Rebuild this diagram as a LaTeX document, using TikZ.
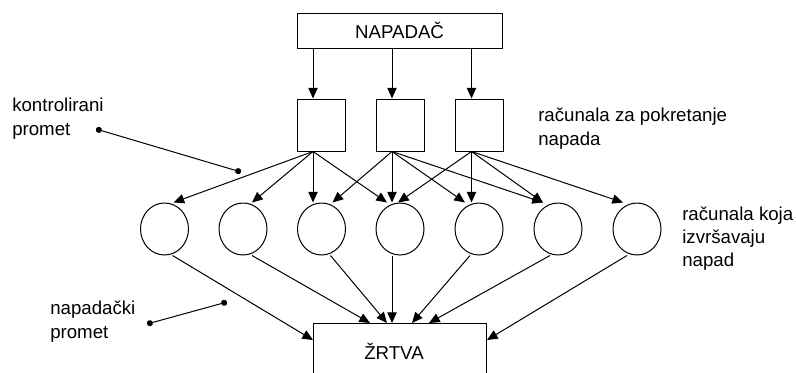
\documentclass[tikz,border=0pt]{standalone}
\usepackage{fontspec}
\setmainfont{Liberation Sans}
\usetikzlibrary{arrows.meta,calc,shapes.geometric}
\begin{document}
\begin{tikzpicture}[x=0.75pt,y=-0.75pt,
  font=\fontsize{14pt}{17.5pt}\selectfont,
  box/.style={draw, line width=0.75pt, inner sep=0pt},
  sq/.style={box, minimum width=48*0.75pt, minimum height=52*0.75pt},
  pc/.style={ellipse, draw, line width=0.75pt, inner sep=0pt, minimum width=48*0.75pt, minimum height=52*0.75pt},
  arr/.style={line width=0.75pt, -{Triangle[length=8pt,width=7pt]}},
  lbl/.style={align=left, anchor=base west, inner sep=0pt},
  pointer/.style={line width=0.75pt, {Circle[length=4.5pt]}-{Circle[length=4.5pt]}}
]
\useasboundingbox (0,0) rectangle (796,372);
\clip (0,0) rectangle (796,372);

% attacker
\node[box, minimum width=205*0.75pt, minimum height=35*0.75pt] (top) at (399.5,30.5) {NAPADAČ};

% launching computers
\node[sq] (s1) at (321,125) {};
\node[sq] (s2) at (400,125) {};
\node[sq] (s3) at (479.5,125) {};

% executing computers
\node[pc] (c1) at (164.5,229) {};
\node[pc] (c2) at (243,229) {};
\node[pc] (c3) at (321.5,229) {};
\node[pc] (c4) at (400,229) {};
\node[pc] (c5) at (479,229) {};
\node[pc] (c6) at (558,229) {};
\node[pc] (c7) at (637,229) {};

% victim
\node[box, anchor=north west, minimum width=173*0.75pt, minimum height=62*0.75pt] (v) at (313,323) {};
\node[inner sep=0pt] (vt) at (394,351.5) {ŽRTVA};

% attacker -> launchers
\coordinate (s1t) at ($(s1.north)+(-8,0)$);
\coordinate (s2t) at ($(s2.north)+(-8,0)$);
\coordinate (s3t) at ($(s3.north)+(-8,0)$);
\draw[arr] (s1t |- top.south) -- (s1t);
\draw[arr] (s2t |- top.south) -- (s2t);
\draw[arr] (s3t |- top.south) -- (s3t);

% launchers -> executors
\coordinate (s1b) at ($(s1.south)+(-8,0)$);
\coordinate (s2b) at ($(s2.south)+(-8,0)$);
\coordinate (s3b) at ($(s3.south)+(-8,0)$);
\draw[arr] (s1b) -- ($(c1.north)+(9,0)$);
\draw[arr] (s1b) -- ($(c2.north)+(9,0)$);
\draw[arr] (s1b) -- ($(c3.north)+(-8.5,0)$);
\draw[arr] (s1b) -- ($(c4.north)+(-13,0)$);
\draw[arr] (s2b) -- ($(c3.north)+(11,0)$);
\draw[arr] (s2b) -- ($(c4.north)+(-8,0)$);
\draw[arr] (s2b) -- ($(c5.north)+(-14,0)$);
\draw[arr] (s2b) -- ($(c6.north)+(-15,0)$);
\draw[arr] (s3b) -- ($(c4.north)+(-2,0)$);
\draw[arr] (s3b) -- ($(c5.north)+(-7.5,0)$);
\draw[arr] (s3b) -- ($(c6.north)+(-15,0)$);
\draw[arr] (s3b) -- ($(c7.north)+(-14,0)$);

% executors -> victim
\draw[arr] ($(c1.south)+(8,0)$) -- ($(v.north west)+(0,17)$);
\draw[arr] ($(c2.south)+(9,0)$) -- ($(v.north west)+(57,0)$);
\draw[arr] ($(c3.south)+(9,0)$) -- ($(v.north west)+(74,0)$);
\draw[arr] ($(c4.south)+(-8,0)$) -- ($(v.north west)+(79,0)$);
\draw[arr] ($(c5.south)+(-9,0)$) -- ($(v.north west)+(99,0)$);
\draw[arr] ($(c6.south)+(-8,0)$) -- ($(v.north west)+(116,0)$);
\draw[arr] ($(c7.south)+(-10,0)$) -- ($(v.north east)+(0,17)$);

% labels (anchored at the baseline of the last line)
\node[lbl] (l1) at (12,135.3) {kontrolirani\\promet};
\node[lbl] (l2) at (50,338.3) {napadački\\promet};
\node[lbl] (l3) at (538,145.3) {računala za pokretanje\\napada};
\node[lbl] (l4) at (682,266.7) {računala koja\\izvršavaju\\napad};

% pointer lines
\coordinate (p1a) at (96,129);
\coordinate (p1b) at (241,172);
\coordinate (p2a) at (147,324);
\coordinate (p2b) at (227,302);
\draw[pointer] (p1a) -- (p1b);
\draw[pointer] (p2a) -- (p2b);
\end{tikzpicture}
\end{document}
